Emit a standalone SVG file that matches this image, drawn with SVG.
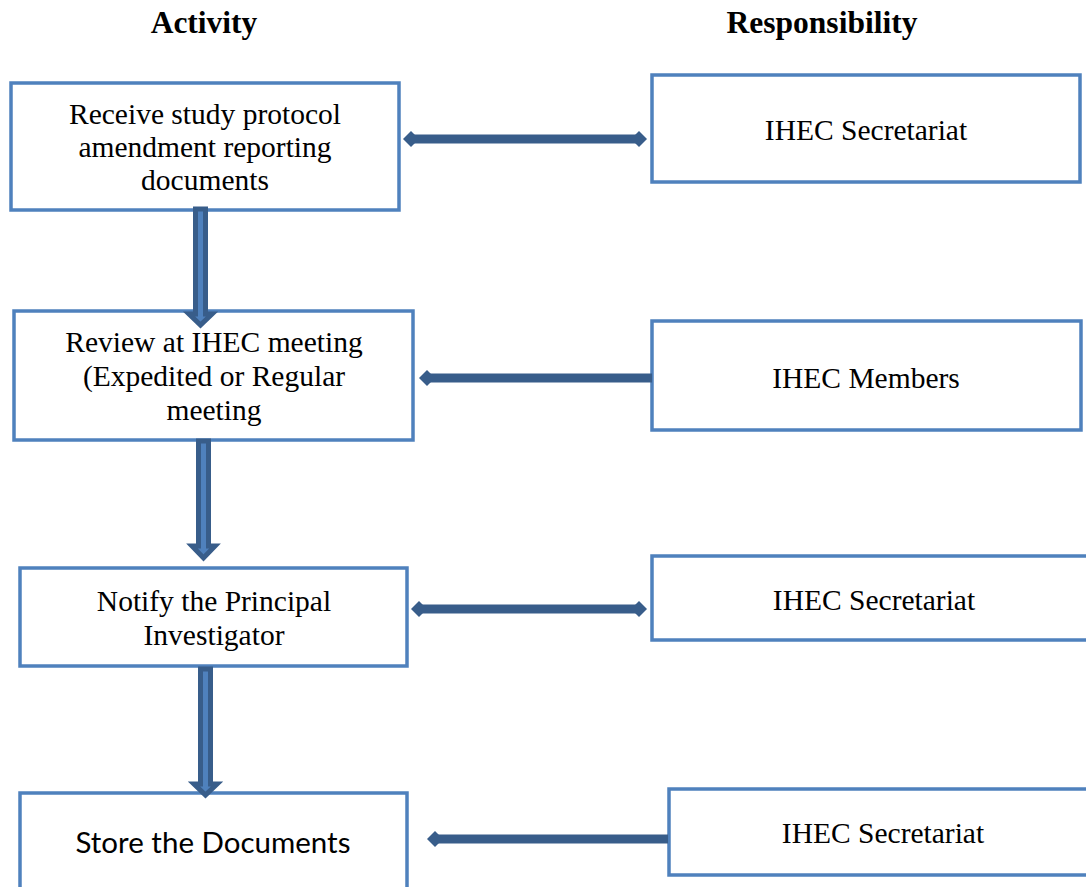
<svg xmlns="http://www.w3.org/2000/svg" width="1086" height="887" viewBox="0 0 1086 887">
<defs>
<style>
.box{fill:#fff;stroke:#4f81bd;stroke-width:3.5}
.t{font-family:"Liberation Serif",serif;font-size:29.5px;fill:#000;text-anchor:middle}
.h{font-family:"Liberation Serif",serif;font-size:31.5px;font-weight:bold;fill:#000;text-anchor:middle}
.c{font-family:Lato,"Open Sans",sans-serif;font-size:29.5px;fill:#000;text-anchor:middle}
.va{fill:#4f81bd;stroke:#385d8a;stroke-width:5;stroke-linejoin:miter}
.ha{stroke:#385d8a;stroke-width:9;fill:none}
.hd{fill:#385d8a}
</style>
</defs>
<rect width="1086" height="887" fill="#fff"/>
<text class="h" x="204" y="33">Activity</text>
<text class="h" x="822" y="33">Responsibility</text>
<g id="n1"><rect class="box" x="11" y="83" width="388" height="127"/>
<text class="t" x="205" y="124">Receive study protocol</text>
<text class="t" x="205" y="157">amendment reporting</text>
<text class="t" x="205" y="190">documents</text></g>
<g id="n2"><rect class="box" x="14" y="311" width="399" height="129"/>
<text class="t" x="214" y="352">Review at IHEC meeting</text>
<text class="t" x="214" y="386">(Expedited or Regular</text>
<text class="t" x="214" y="420">meeting</text></g>
<g id="n3"><rect class="box" x="20" y="568" width="387" height="98"/>
<text class="t" x="214" y="611">Notify the Principal</text>
<text class="t" x="214" y="645">Investigator</text></g>
<g id="n4"><rect class="box" x="20" y="793" width="387" height="110"/>
<text class="c" x="213" y="853">Store the Documents</text></g>
<g id="r1"><rect class="box" x="652" y="75" width="428" height="107"/>
<text class="t" x="866" y="140">IHEC Secretariat</text></g>
<g id="r2"><rect class="box" x="652" y="321" width="429" height="109"/>
<text class="t" x="866" y="388">IHEC Members</text></g>
<g id="r3"><rect class="box" x="652" y="556" width="450" height="84"/>
<text class="t" x="874" y="610">IHEC Secretariat</text></g>
<g id="r4"><rect class="box" x="669" y="789" width="430" height="86"/>
<text class="t" x="883" y="843">IHEC Secretariat</text></g>
<g id="connectors">
<path class="va" d="M195.5,209 H205.5 V314 H212 L200.5,325 L189,314 H195.5 Z"/>
<path class="va" d="M198.5,441 H208.5 V546 H215 L203.5,558 L192,546 H198.5 Z"/>
<path class="va" d="M200.5,669 H210.5 V784 H217 L205.5,795 L194,784 H200.5 Z"/>
<line class="ha" x1="410" y1="139" x2="640" y2="139"/>
<path class="hd" d="M403,139 L411,131 L419,139 L411,147 Z"/>
<path class="hd" d="M647,139 L639,131 L631,139 L639,147 Z"/>
<line class="ha" x1="427" y1="378" x2="652" y2="378"/>
<path class="hd" d="M419,378 L427,370 L435,378 L427,386 Z"/>
<line class="ha" x1="418" y1="609" x2="640" y2="609"/>
<path class="hd" d="M411,609 L419,601 L427,609 L419,617 Z"/>
<path class="hd" d="M647,609 L639,601 L631,609 L639,617 Z"/>
<line class="ha" x1="435" y1="839" x2="668" y2="839"/>
<path class="hd" d="M427,839 L435,831 L443,839 L435,847 Z"/>
</g>
</svg>
